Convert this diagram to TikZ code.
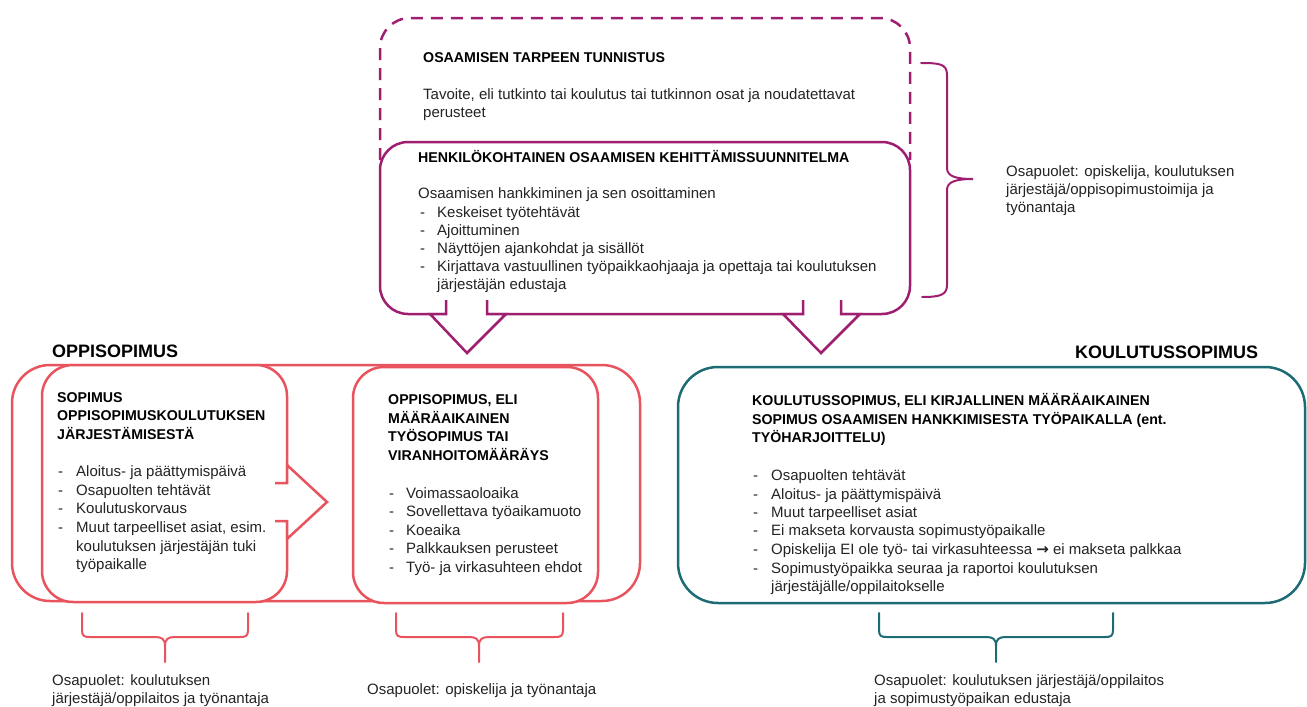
\documentclass[tikz,border=0pt]{standalone}
\usepackage{fontspec}
\setmainfont{Liberation Sans}
\newfontfamily\dejavu{DejaVu Sans}
\definecolor{pur}{RGB}{160,30,112}
\definecolor{rd}{RGB}{233,83,94}
\definecolor{tl}{RGB}{28,107,117}
\definecolor{ink}{RGB}{35,35,35}
\tikzset{
  txt/.style={anchor=base west, inner sep=0pt, font=\fontsize{15}{18}\selectfont, text=ink},
  hd/.style={anchor=base west, inner sep=0pt, font=\fontsize{14.2}{17}\selectfont\bfseries, text=black},
  ttl/.style={anchor=base west, inner sep=0pt, font=\fontsize{18}{21}\selectfont\bfseries, text=black},
  boxline/.style={line width=2.5pt, line join=round},
  bracel/.style={line width=2pt, line cap=round},
}
\begin{document}
\begin{tikzpicture}[x=1pt,y=-1pt]
\useasboundingbox (0,0) rectangle (1307,707);

% ---------- top: dashed and HOKS box ----------
\draw[boxline, pur, dash pattern=on 12pt off 8pt, rounded corners=30pt]
  (380,160) -- (380,18) -- (910,18) -- (910,160);
\draw[boxline, pur, fill=white, rounded corners=28pt] (380,142) rectangle (910,314);

% down arrows from HOKS
\fill[white] (446,298) -- (446,313) -- (430,313) -- (467,353) -- (506,313) -- (487,313) -- (487,298) -- cycle;
\draw[boxline, pur, line join=miter] (446,300) -- (446,314) -- (430,314) -- (467,353) -- (506,314) -- (487,314) -- (487,300);
\fill[white] (803,298) -- (803,313) -- (783,313) -- (821,353) -- (860,313) -- (841,313) -- (841,298) -- cycle;
\draw[boxline, pur, line join=miter] (803,300) -- (803,314) -- (783,314) -- (821,353) -- (860,314) -- (841,314) -- (841,300);

% right brace (top)
\draw[bracel, pur] (921,63) .. controls (940,63) and (947,64) .. (947,75) -- (947,168)
  .. controls (947,176) and (955,179) .. (973,179)
  .. controls (955,179) and (947,182) .. (947,190) -- (947,285)
  .. controls (947,295) and (940,297) .. (922,297);

\node[hd] (t1) at (423,62) {OSAAMISEN TARPEEN TUNNISTUS};
\node[txt] (t2) at (423,99) {Tavoite, eli tutkinto tai koulutus tai tutkinnon osat ja noudatettavat};
\node[txt] (t3) at (423,117) {perusteet};

\node[hd] (h1) at (418,162) {HENKILÖKOHTAINEN OSAAMISEN KEHITTÄMISSUUNNITELMA};
\node[txt] (h2) at (418,198) {Osaamisen hankkiminen ja sen osoittaminen};
\node[txt] (h3d) at (420,217) {-};
\node[txt] (h3) at (437,217) {Keskeiset työtehtävät};
\node[txt] (h4d) at (420,235) {-};
\node[txt] (h4) at (437,235) {Ajoittuminen};
\node[txt] (h5d) at (420,253) {-};
\node[txt] (h5) at (437,253) {Näyttöjen ajankohdat ja sisällöt};
\node[txt] (h6d) at (420,271) {-};
\node[txt] (h6) at (437,271) {Kirjattava vastuullinen työpaikkaohjaaja ja opettaja tai koulutuksen};
\node[txt] (h7) at (437,289) {järjestäjän edustaja};

\node[txt] (r1) at (1006,176) {Osapuolet: opiskelija, koulutuksen};
\node[txt] (r2) at (1006,194) {järjestäjä/oppisopimustoimija ja};
\node[txt] (r3) at (1006,212) {työnantaja};

% ---------- OPPISOPIMUS ----------
\node[ttl] (op) at (52,357) {OPPISOPIMUS};
\draw[boxline, rd, rounded corners=38pt] (12,365) rectangle (640,601);
\draw[boxline, rd, fill=white, rounded corners=31pt] (42,365) rectangle (287,602);
\draw[boxline, rd, fill=white, rounded corners=31pt] (353,367) rectangle (598,603);
% right arrow between boxes
\fill[white] (274,484) -- (287,484) -- (287,465) -- (327,502) -- (287,538) -- (287,520) -- (274,520) -- cycle;
\draw[boxline, rd, line join=miter] (275,483) -- (287,483) -- (287,465) -- (327,502) -- (287,539) -- (287,521) -- (275,521);

\node[hd] (a1) at (57,402) {SOPIMUS};
\node[hd] (a2) at (57,420) {OPPISOPIMUSKOULUTUKSEN};
\node[hd] (a3) at (57,439) {JÄRJESTÄMISESTÄ};
\node[txt] (a4d) at (58,476) {-};
\node[txt] (a4) at (76,476) {Aloitus- ja päättymispäivä};
\node[txt] (a5d) at (58,495) {-};
\node[txt] (a5) at (76,495) {Osapuolten tehtävät};
\node[txt] (a6d) at (58,513) {-};
\node[txt] (a6) at (76,513) {Koulutuskorvaus};
\node[txt] (a7d) at (58,532) {-};
\node[txt] (a7) at (76,532) {Muut tarpeelliset asiat, esim.};
\node[txt] (a8) at (76,551) {koulutuksen järjestäjän tuki};
\node[txt] (a9) at (76,569) {työpaikalle};

\node[hd] (b1) at (388,404) {OPPISOPIMUS, ELI};
\node[hd] (b2) at (388,423) {MÄÄRÄAIKAINEN};
\node[hd] (b3) at (388,441) {TYÖSOPIMUS TAI};
\node[hd] (b4) at (388,460) {VIRANHOITOMÄÄRÄYS};
\node[txt] (b5d) at (389,498) {-};
\node[txt] (b5) at (406,498) {Voimassaoloaika};
\node[txt] (b6d) at (389,516) {-};
\node[txt] (b6) at (406,516) {Sovellettava työaikamuoto};
\node[txt] (b7d) at (389,535) {-};
\node[txt] (b7) at (406,535) {Koeaika};
\node[txt] (b8d) at (389,553) {-};
\node[txt] (b8) at (406,553) {Palkkauksen perusteet};
\node[txt] (b9d) at (389,572) {-};
\node[txt] (b9) at (406,572) {Työ- ja virkasuhteen ehdot};

% braces below oppisopimus
\draw[bracel, rd] (82,613) -- (82,630) .. controls (82,636) and (84,637) .. (90,637) -- (155,637)
  .. controls (162,637) and (165,639) .. (165,646) -- (165,662);
\draw[bracel, rd] (248,613) -- (248,630) .. controls (248,636) and (246,637) .. (240,637) -- (175,637)
  .. controls (168,637) and (165,639) .. (165,646);
\draw[bracel, rd] (396,613) -- (396,630) .. controls (396,636) and (398,637) .. (404,637) -- (469,637)
  .. controls (476,637) and (479,639) .. (479,646) -- (479,662);
\draw[bracel, rd] (563,613) -- (563,630) .. controls (563,636) and (561,637) .. (555,637) -- (489,637)
  .. controls (482,637) and (479,639) .. (479,646);

\node[txt] (c1) at (52,685) {Osapuolet: koulutuksen};
\node[txt] (c2) at (52,703) {järjestäjä/oppilaitos ja työnantaja};
\node[txt] (c3) at (367,694) {Osapuolet: opiskelija ja työnantaja};

% ---------- KOULUTUSSOPIMUS ----------
\node[ttl] (ks) at (1075,358) {KOULUTUSSOPIMUS};
\draw[boxline, tl, rounded corners=40pt] (678,367) rectangle (1305,603);

\node[hd] (k1) at (752,405) {KOULUTUSSOPIMUS, ELI KIRJALLINEN MÄÄRÄAIKAINEN};
\node[hd] (k2) at (752,424) {SOPIMUS OSAAMISEN HANKKIMISESTA TYÖPAIKALLA (ent.};
\node[hd] (k3) at (752,442) {TYÖHARJOITTELU)};
\node[txt] (k4d) at (753,480) {-};
\node[txt] (k4) at (771,480) {Osapuolten tehtävät};
\node[txt] (k5d) at (753,499) {-};
\node[txt] (k5) at (771,499) {Aloitus- ja päättymispäivä};
\node[txt] (k6d) at (753,517) {-};
\node[txt] (k6) at (771,517) {Muut tarpeelliset asiat};
\node[txt] (k7d) at (753,535) {-};
\node[txt] (k7) at (771,535) {Ei makseta korvausta sopimustyöpaikalle};
\node[txt] (k8d) at (753,554) {-};
\node[txt] (k8) at (771,554) {Opiskelija EI ole työ- tai virkasuhteessa {\dejavu\bfseries →} ei makseta palkkaa};
\node[txt] (k9d) at (753,573) {-};
\node[txt] (k9) at (771,573) {Sopimustyöpaikka seuraa ja raportoi koulutuksen};
\node[txt] (k10) at (771,591) {järjestäjälle/oppilaitokselle};

\draw[bracel, tl] (879,613) -- (879,630) .. controls (879,636) and (881,637) .. (887,637) -- (986,637)
  .. controls (993,637) and (996,639) .. (996,646) -- (996,662);
\draw[bracel, tl] (1113,613) -- (1113,630) .. controls (1113,636) and (1111,637) .. (1105,637) -- (1006,637)
  .. controls (999,637) and (996,639) .. (996,646);

\node[txt] (d1) at (874,685) {Osapuolet: koulutuksen järjestäjä/oppilaitos};
\node[txt] (d2) at (874,703) {ja sopimustyöpaikan edustaja};
\end{tikzpicture}
\end{document}
